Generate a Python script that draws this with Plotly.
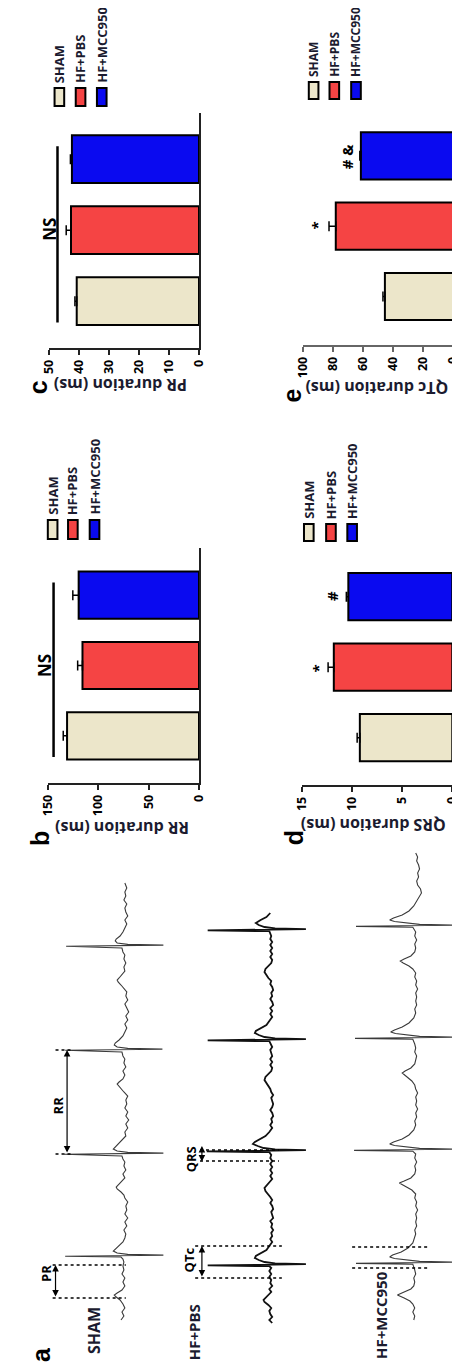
import plotly.graph_objects as go

W, H = 460, 1363

# ---------------- data ----------------
groups = ["SHAM", "HF+PBS", "HF+MCC950"]
colors = ["#ECE6CA", "#F54444", "#0A0AF0"]

rr_mean = [130.9, 115.6, 119.4]
rr_se = [3.8, 4.8, 5.8]
pr_mean = [40.7, 42.6, 42.3]
pr_se = [0.6, 1.6, 0.5]
qrs_mean = [9.23, 11.83, 10.38]
qrs_se = [0.27, 0.57, 0.20]
qtc_mean = [45.5, 78.2, 61.5]
qtc_se = [1.3, 4.5, 0.7]

rr_ticks = [0, 50, 100, 150]
pr_ticks = [0, 10, 20, 30, 40, 50]
qrs_ticks = [0, 5, 10, 15]
qtc_ticks = [0, 20, 40, 60, 80, 100]

# ECG traces: time (ms) and amplitude (mV)
sham_t = [3, 7, 11, 15, 19, 23, 26, 28, 30, 33, 37, 41, 45, 49, 53, 57, 61, 64, 66,
          66.8, 67.3, 67.9, 68.6, 70, 72, 74, 77, 81, 85,
          89, 93, 97, 101, 105, 109, 113, 117, 121, 125, 128, 131, 134, 136, 138, 141, 145, 149, 153, 157, 161, 164, 167,
          168.8, 169.3, 169.9, 170.6, 172, 174, 176, 179, 183, 187,
          191, 195, 199, 203, 207, 211, 215, 219, 223, 227, 231, 234, 237, 239, 241, 244, 248, 252, 256, 260, 264, 267, 271,
          272.8, 273.3, 273.9, 274.6, 276, 278, 280, 283, 287, 291,
          295, 299, 303, 307, 311, 315, 319, 323, 327, 331, 335, 338, 341, 343, 345, 348, 352, 356, 360, 364, 368, 371, 375,
          376.8, 377.3, 377.9, 378.6, 380, 382, 384, 387, 391, 395,
          399, 403, 407, 411, 415, 419, 423, 427, 431, 435, 440]
sham_v = [.02, -.01, .01, -.02, .00, .03, .07, .09, .06, .01, -.02, .00, -.02, .01, -.01, .00, -.01, .00, .02,
          .60, .10, -.42, -.05, .06, .10, .08, .04, .00, -.02,
          -.03, -.01, -.04, -.02, -.05, -.02, -.04, -.03, -.05, -.02, -.01, .02, .06, .07, .05, .01, -.02, .00, -.03, -.01, -.02, .00, .01,
          .61, .10, -.42, -.05, .06, .10, .08, .04, .00, -.03,
          -.02, -.05, -.03, -.06, -.03, -.05, -.02, -.04, -.03, -.05, -.01, .02, .05, .06, .04, .00, -.02, .00, -.03, -.01, -.02, .00, .01,
          .60, .10, -.41, -.05, .06, .09, .08, .04, .00, -.02,
          -.04, -.02, -.05, -.03, -.06, -.04, -.02, -.05, -.03, -.04, -.01, .02, .05, .06, .04, .01, -.02, -.01, -.03, -.01, -.02, .00, .01,
          .59, .10, -.42, -.05, .06, .08, .07, .03, .00, -.02,
          -.04, -.02, -.05, -.03, -.02, -.04, -.01, -.03, -.02, -.04, -.02]

pbs_t = [0, 3, 6, 9, 12, 15, 18, 21, 23, 25, 28, 31, 34, 37, 40, 43, 46, 49, 52, 55, 56.8,
         57.6, 58.2, 58.9, 59.6, 61, 63, 65, 67, 70, 73, 77, 81,
         84, 87, 90, 93, 96, 99, 102, 105, 108, 111, 114, 117, 120, 123, 126, 129, 132, 135, 138, 141, 144, 147, 150, 153, 156, 159, 162, 165, 168, 170.8,
         171.6, 172.2, 172.9, 173.6, 175, 177, 179, 181, 184, 187, 191, 195,
         198, 201, 204, 207, 210, 213, 216, 219, 222, 225, 228, 231, 234, 237, 240, 243, 246, 249, 252, 255, 258, 261, 264, 267, 270, 273, 276, 279, 281.8,
         282.6, 283.2, 283.9, 284.6, 286, 288, 290, 292, 295, 298, 302, 306,
         309, 312, 315, 318, 321, 324, 327, 330, 333, 336, 339, 342, 345, 348, 351, 354, 357, 360, 363, 366, 369, 372, 375, 378, 381, 384, 387, 390, 391.8,
         392.6, 393.2, 393.9, 394.6, 396, 398, 400, 403, 406, 410]
pbs_v = [-.02, .01, -.02, .00, .01, -.01, .02, .06, .07, .05, .01, -.01, .01, -.02, .00, -.01, .01, -.01, .01, -.01, .01,
         .65, .12, -.37, -.05, .06, .12, .16, .15, .09, .04, .01, -.02,
         .00, -.02, -.01, -.03, -.01, -.02, .00, -.03, -.02, -.01, -.03, -.02, .00, -.02, .00, .03, .05, .06, .03, .00, -.02, .00, -.02, .00, -.02, .00, -.02, .00, -.01, .01,
         .66, .12, -.37, -.05, .07, .13, .18, .16, .10, .05, .01, -.02,
         .00, -.02, -.01, -.03, -.02, .00, -.02, -.03, -.02, -.01, -.03, -.01, .00, .02, .04, .06, .05, .02, -.01, -.02, .00, -.02, .00, -.02, -.01, .00, -.02, .00, .01,
         .65, .12, -.37, -.05, .06, .12, .16, .15, .09, .04, .01, -.02,
         .00, -.02, .00, -.03, -.02, .00, -.02, -.01, -.03, -.02, .00, -.01, .02, .04, .06, .05, .02, -.01, -.02, .00, -.02, .00, -.02, .00, -.02, .00, -.01, .00, .01,
         .65, .12, -.37, -.05, .06, .12, .15, .10, .04, .00]

mcc_t = [3, 7, 11, 15, 19, 22, 25, 28, 31, 34, 37, 41, 45, 49, 53, 56, 58.8,
         59.6, 60.2, 60.9, 61.6, 63, 64.5, 66, 68, 71, 75, 80, 85,
         89, 93, 97, 101, 105, 109, 113, 117, 121, 125, 129, 133, 136, 139, 140, 142, 145, 149, 153, 157, 161, 165, 169, 171.8,
         172.6, 173.2, 173.9, 174.6, 176, 177.5, 179, 181, 184, 188, 193, 198,
         202, 206, 210, 214, 218, 222, 226, 230, 234, 238, 242, 245, 248, 250, 252, 255, 259, 263, 267, 271, 275, 279, 283.8,
         284.6, 285.2, 285.9, 286.6, 288, 289.5, 291, 293, 296, 300, 305, 310,
         314, 318, 322, 326, 330, 334, 338, 342, 346, 350, 354, 357, 360, 362, 364, 367, 371, 375, 379, 383, 387, 391, 395.8,
         396.6, 397.2, 397.9, 398.6, 400, 401.5, 403, 405, 408, 412, 417, 422,
         426, 430, 434, 438, 442, 446, 450, 454, 458, 462, 466, 470]
mcc_v = [.00, -.01, .01, -.01, .01, .04, .10, .17, .10, .03, .00, -.01, .00, -.02, -.01, .00, .01,
         .60, .12, -.46, -.06, .10, .20, .25, .22, .13, .06, .01, -.01,
         -.02, -.01, -.03, -.02, -.03, -.02, -.04, -.02, -.03, -.01, -.02, .02, .07, .13, .15, .10, .03, -.01, -.02, -.01, -.03, -.01, -.02, .01,
         .62, .12, -.47, -.06, .10, .20, .25, .21, .12, .05, .00, -.02,
         -.01, -.03, -.02, -.04, -.02, -.03, -.02, -.04, -.02, -.01, .02, .06, .10, .12, .09, .03, -.01, -.02, -.03, -.01, -.02, -.01, .01,
         .61, .12, -.46, -.06, .10, .19, .24, .20, .12, .05, .00, -.02,
         -.01, -.03, -.02, -.03, -.02, -.04, -.02, -.03, -.01, -.02, .01, .05, .11, .14, .10, .03, -.01, -.02, -.01, -.03, -.01, -.02, .01,
         .60, .12, -.46, -.06, .10, .20, .25, .21, .12, .05, .00, -.03,
         -.05, -.08, -.07, -.04, -.03, -.05, -.04, -.06, -.05, -.03, -.04, -.02]

# ---------------- helpers ----------------
TXT = "#1b1b2f"
SANS = "Open Sans"


def fx(x):
    return x / W


def fy(y):
    return 1 - y / H


def txt(s, x, y, size, angle=-90, family=SANS, color=TXT, xanchor="center", yanchor="middle"):
    return dict(text=f"<b>{s}</b>", x=fx(x), y=fy(y), xref="paper", yref="paper",
                showarrow=False, textangle=angle, xanchor=xanchor, yanchor=yanchor,
                font=dict(size=size, family=family, color=color))


fig = go.Figure()
annotations = []
shapes = []

panels = [
    dict(n=1, mean=pr_mean, se=pr_se, ticks=pr_ticks, xd=(33, 189), vmax=50, yd=(340, 105), yr=(-0.66, 2.65),
         title="PR duration (ms)", tpos=(108, 377), letter="c", lpos=(22, 379),
         legx=[44, 66, 88], legy=(80, 98), legt=77, legs=13, axc="#222"),
    dict(n=2, mean=qtc_mean, se=qtc_se, ticks=qtc_ticks, xd=(297, 453), vmax=100, yd=(337, 100), yr=(-0.69, 2.68),
         title="QTc duration (ms)", tpos=(374, 380), letter="e", lpos=(286, 387),
         legx=[308, 329.5, 352], legy=(74, 91), legt=71, legs=12, axc="#666"),
    dict(n=3, mean=rr_mean, se=rr_se, ticks=rr_ticks, xd=(32, 189), vmax=150, yd=(775, 540), yr=(-0.67, 2.67),
         title="RR duration (ms)", tpos=(109, 820), letter="b", lpos=(24, 831),
         legx=[37, 58, 80.5], legy=(512, 531), legt=509, legs=13, axc="#222"),
    dict(n=4, mean=qrs_mean, se=qrs_se, ticks=qrs_ticks, xd=(296, 452), vmax=15, yd=(777, 540), yr=(-0.67, 2.69),
         title="QRS duration (ms)", tpos=(370, 817), letter="d", lpos=(288, 830),
         legx=[303, 326, 348], legy=(516, 533), legt=513, legs=13, axc="#222"),
]

for p in panels:
    n = p["n"]
    xa = "x" if n == 1 else f"x{n}"
    ya = "y" if n == 1 else f"y{n}"
    fig.add_trace(go.Bar(
        y=[0, 1, 2], x=p["mean"], orientation="h", width=0.67,
        marker=dict(color=colors, line=dict(color="black", width=2)),
        error_x=dict(type="data", array=p["se"], arrayminus=[0, 0, 0], symmetric=False,
                     color="black", thickness=1.5, width=5),
        hovertext=groups, xaxis=xa, yaxis=ya, showlegend=False))
    fig.layout[f"xaxis{'' if n == 1 else n}"] = dict(
        domain=[fx(p["xd"][0]), fx(p["xd"][1])], range=[p["vmax"], 0], anchor=ya,
        tickvals=p["ticks"], ticks="outside", ticklen=5, tickwidth=1.5, tickcolor=p["axc"],
        showline=True, linecolor=p["axc"], linewidth=1.5, tickangle=-90,
        tickfont=dict(size=12.5, family=SANS, color="black", weight="bold"),
        showgrid=False, zeroline=False, fixedrange=True)
    fig.layout[f"yaxis{'' if n == 1 else n}"] = dict(
        domain=[fy(p["yd"][0]), fy(p["yd"][1])], range=list(p["yr"]), anchor=xa, side="right",
        showline=True, linecolor=p["axc"], linewidth=1.5, showticklabels=False, ticks="",
        showgrid=False, zeroline=False, fixedrange=True)
    annotations.append(txt(p["title"], *p["tpos"], 16, angle=180))
    annotations.append(txt(p["letter"], *p["lpos"], 25, family="Liberation Sans", color="black"))
    for gx, g, c in zip(p["legx"], groups, colors):
        shapes.append(dict(type="rect", xref="paper", yref="paper",
                           x0=fx(gx - 5), x1=fx(gx + 5), y0=fy(p["legy"][1]), y1=fy(p["legy"][0]),
                           fillcolor=c, line=dict(color="black", width=2)))
        annotations.append(txt(g, gx, p["legt"], p["legs"], yanchor="bottom"))

# NS bars (panels c and b)
for xa, ya, val in [("x", "y", 47.1), ("x3", "y3", 144.3)]:
    shapes.append(dict(type="line", xref=xa, yref=ya, x0=val, x1=val, y0=-0.3, y1=2.18,
                       line=dict(color="black", width=2.5)))
annotations.append(txt("NS", 33, 221, 17, color="black"))
annotations.append(txt("NS", 28, 657, 17, color="black"))
# significance marks
annotations.append(txt("*", 313, 660, 15, color="black"))
annotations.append(txt("#", 327, 588, 15, color="black"))
annotations.append(txt("*", 311, 218, 15, color="black"))
annotations.append(txt("# &amp;", 343, 148, 15, color="black"))

# ---------------- ECG panel ----------------
ecg = [("x5", sham_t, sham_v, (10, 160), (1.0, -0.5), "#3a3a3a", 1.1),
       ("x6", pbs_t, pbs_v, (170, 320), (0.93, -0.57), "#111111", 1.8),
       ("x7", mcc_t, mcc_v, (320, 460), (0.92, -0.48), "#3a3a3a", 1.1)]
for xa, t, v, dom, rng, col, lw in ecg:
    fig.add_trace(go.Scatter(x=v, y=t, mode="lines", line=dict(color=col, width=lw),
                             xaxis=xa, yaxis="y5", showlegend=False, hoverinfo="skip"))
    fig.layout[f"xaxis{xa[1:]}"] = dict(domain=[fx(dom[0]), fx(dom[1])], range=list(rng), anchor="y5",
                                        visible=False, fixedrange=True)
fig.layout["yaxis5"] = dict(domain=[fy(1330), fy(830)], range=[-15, 485], anchor="x5",
                            visible=False, fixedrange=True)


def dotted(xa, t, v0, v1):
    shapes.append(dict(type="line", xref=xa, yref="y5", x0=v0, x1=v1, y0=t, y1=t,
                       line=dict(color="black", width=1.6, dash="dot")))


def arrow(xa, v, t0, t1):
    annotations.append(dict(x=v, y=t1, ax=v, ay=t0, xref=xa, yref="y5", axref=xa, ayref="y5",
                            text="", showarrow=True, arrowhead=2, arrowside="end+start",
                            arrowsize=1.1, arrowwidth=1.2, arrowcolor="black", standoff=0, startstandoff=0))


# PR
dotted("x5", 58, 0.73, -0.03)
dotted("x5", 25, 0.73, -0.03)
arrow("x5", 0.70, 25, 58)
# RR
dotted("x5", 273, 0.70, 0.53)
dotted("x5", 169, 0.70, 0.53)
arrow("x5", 0.58, 169, 273)
# QRS
dotted("x6", 173, 0.73, -0.09)
dotted("x6", 162, 0.73, -0.09)
arrow("x6", 0.71, 160, 177)
# QTc
dotted("x6", 77, 0.78, -0.12)
dotted("x6", 45, 0.78, -0.12)
arrow("x6", 0.71, 45, 77)
# MCC
dotted("x7", 76, 0.64, -0.15)
dotted("x7", 55, 0.64, -0.15)

annotations.append(txt("a", 25, 1347, 25, family="Liberation Sans", color="black"))
annotations.append(txt("SHAM", 80, 1323, 16))
annotations.append(txt("HF+PBS", 184, 1324, 15))
annotations.append(txt("HF+MCC950", 378, 1307, 15))
annotations.append(txt("PR", 30, 1265, 13, color="black"))
annotations.append(txt("RR", 43, 1097, 13, color="black"))
annotations.append(txt("QRS", 181, 1151, 13, color="black"))
annotations.append(txt("QTc", 179, 1252, 13, color="black"))

fig.update_layout(width=W, height=H, margin=dict(l=0, r=0, t=0, b=0),
                  paper_bgcolor="white", plot_bgcolor="rgba(0,0,0,0)",
                  annotations=annotations, shapes=shapes, bargap=0.33)

fig.write_html("out.html")
